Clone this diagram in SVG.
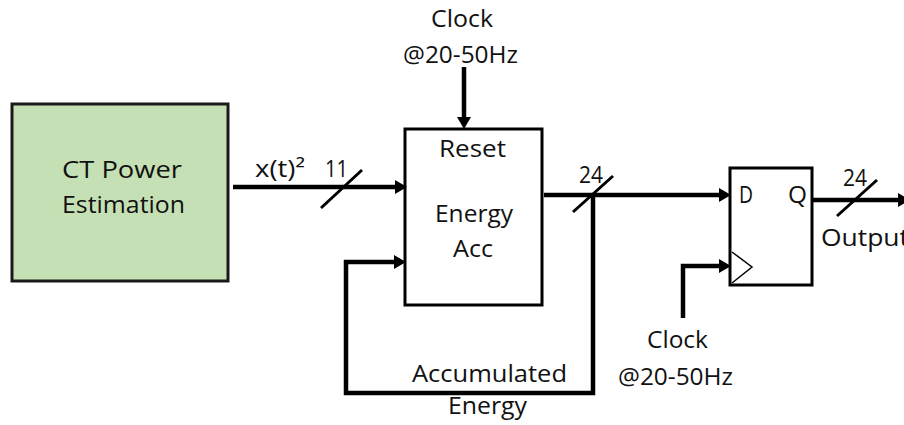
<svg xmlns="http://www.w3.org/2000/svg" width="904" height="425" viewBox="0 0 904 425">
<style>
text{font-family:"Open Sans","Liberation Sans",sans-serif;font-size:23px;fill:#111}
.w{fill:none;stroke:#000;stroke-width:4.5}
.s{fill:none;stroke:#000;stroke-width:3}
.box{fill:#fff;stroke:#000;stroke-width:3}
</style>
<defs>
<marker id="ah" markerUnits="userSpaceOnUse" markerWidth="12" markerHeight="14" refX="0" refY="7" orient="auto" viewBox="0 0 12 14">
<path d="M0,0 L12,7 L0,14 z" fill="#000"/>
</marker>
</defs>
<g id="ct-power">
<rect x="12" y="104" width="216" height="177" fill="#c5e0b4" stroke="#1a1a1a" stroke-width="3"/>
<text x="62" y="178" textLength="120" lengthAdjust="spacingAndGlyphs">CT  Power</text>
<text x="62" y="213" textLength="123" lengthAdjust="spacingAndGlyphs">Estimation</text>
</g>
<g id="energy-acc">
<rect class="box" x="405" y="129" width="137" height="176"/>
<text x="439" y="157" textLength="67" lengthAdjust="spacingAndGlyphs">Reset</text>
<text x="435" y="222" textLength="78" lengthAdjust="spacingAndGlyphs">Energy</text>
<text x="453" y="257" textLength="40" lengthAdjust="spacingAndGlyphs">Acc</text>
</g>
<g id="dff">
<rect class="box" x="730" y="168" width="82" height="117"/>
<text x="739" y="203" textLength="14" lengthAdjust="spacingAndGlyphs">D</text>
<text x="788" y="203" textLength="19" lengthAdjust="spacingAndGlyphs">Q</text>
<path d="M732,252 L752,267 L732,283" fill="none" stroke="#000" stroke-width="1.5"/>
</g>
<g id="connectors">
<line class="w" x1="233" y1="187" x2="395" y2="187" marker-end="url(#ah)"/>
<line class="s" x1="321" y1="208" x2="362" y2="170"/>
<line class="w" x1="464" y1="67" x2="464" y2="117" marker-end="url(#ah)"/>
<line class="w" x1="544" y1="195" x2="719" y2="195" marker-end="url(#ah)"/>
<line class="s" x1="573" y1="212" x2="613" y2="176"/>
<path class="w" d="M593,195 V393 H346 V262 H394" marker-end="url(#ah)"/>
<path class="w" d="M683,318 V266 H719" marker-end="url(#ah)"/>
<line class="w" x1="812" y1="200" x2="898" y2="200" marker-end="url(#ah)"/>
<line class="s" x1="837" y1="216" x2="877" y2="180"/>
</g>
<g id="labels">
<text x="255" y="177" textLength="50" lengthAdjust="spacingAndGlyphs">x(t)²</text>
<text x="325" y="177" textLength="23" lengthAdjust="spacingAndGlyphs">11</text>
<text x="431" y="27" textLength="62" lengthAdjust="spacingAndGlyphs">Clock</text>
<text x="403" y="63" textLength="115" lengthAdjust="spacingAndGlyphs">@20-50Hz</text>
<text x="579" y="183" textLength="24" lengthAdjust="spacingAndGlyphs">24</text>
<text x="843" y="186" textLength="24" lengthAdjust="spacingAndGlyphs">24</text>
<text x="821" y="246" textLength="88" lengthAdjust="spacingAndGlyphs">Output</text>
<text x="647" y="348" textLength="61" lengthAdjust="spacingAndGlyphs">Clock</text>
<text x="618" y="385" textLength="115" lengthAdjust="spacingAndGlyphs">@20-50Hz</text>
<text x="412" y="382" textLength="155" lengthAdjust="spacingAndGlyphs">Accumulated</text>
<text x="448" y="414" textLength="79" lengthAdjust="spacingAndGlyphs">Energy</text>
</g>
</svg>
